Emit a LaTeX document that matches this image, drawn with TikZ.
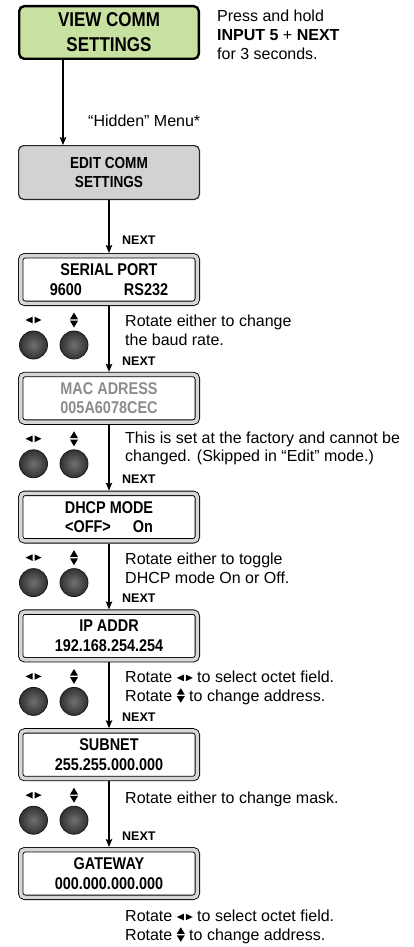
\documentclass[tikz,border=0pt]{standalone}
\usepackage{fontspec}
\setmainfont{Liberation Sans}
\newfontfamily\lcdfont{Liberation Sans}[FakeStretch=0.85]
\usetikzlibrary{positioning,arrows.meta}
\definecolor{viewGreen}{RGB}{200,225,160}
\definecolor{editGray}{RGB}{210,210,210}
\definecolor{lcdGray}{RGB}{214,214,214}
\definecolor{knobEdge}{RGB}{50,50,50}
\definecolor{knobMid}{RGB}{112,112,112}
% small rotate marks used inside the notes
\newcommand\lrmark{\tikz[x=1pt,y=1pt,baseline=0pt]{\fill (7,1)--(7,7.6)--(0,4.3)--cycle (9,1)--(9,7.6)--(16,4.3)--cycle;}}
\newcommand\udmark{\tikz[x=1pt,y=1pt,baseline=0pt]{\fill (0,5)--(8,5)--(4,-1.5)--cycle (0,6.5)--(8,6.5)--(4,13)--cycle;}}
\tikzset{
  viewbox/.style={rectangle,draw=black,line width=2.4pt,fill=viewGreen,
    rounded corners=5pt,minimum width=179.6pt,minimum height=52.6pt,
    inner sep=0pt,align=center,font=\lcdfont\bfseries\fontsize{20}{25}\selectfont},
  editbox/.style={rectangle,draw=black!85,line width=1.2pt,fill=editGray,
    rounded corners=5pt,minimum width=180.8pt,minimum height=53.8pt,
    inner sep=0pt,align=center,font=\lcdfont\bfseries\fontsize{16}{19.5}\selectfont},
  lcd/.style={rectangle,draw=black,line width=0.9pt,double=lcdGray,
    double distance=3.6pt,fill=white,rounded corners=4pt,outer sep=2.7pt,
    minimum width=176.6pt,minimum height=47.6pt,inner sep=0pt,align=center,
    font=\lcdfont\bfseries\fontsize{17}{19.5}\selectfont},
  flow/.style={-{Stealth[length=8pt,width=6.5pt,inset=1.5pt]},line width=1.2pt},
  note/.style={inner sep=0pt,align=left,font=\fontsize{16}{19}\selectfont},
  nextlbl/.style={inner sep=0pt,font=\bfseries\fontsize{12.5}{14}\selectfont},
  knob/.style={draw=black!90,line width=0.8pt,inner color=knobMid,outer color=knobEdge},
  knobs/.pic={
    \shade[knob] (-75.5,39) circle[radius=14];
    \shade[knob] (-35,39) circle[radius=14];
    \fill (-76.5,10.7)--(-76.5,17.3)--(-83.5,14)--cycle
          (-74.5,10.7)--(-74.5,17.3)--(-67.5,14)--cycle;
    \fill (-39,13.3)--(-31,13.3)--(-35,6.5)--cycle
          (-39,14.7)--(-31,14.7)--(-35,21.5)--cycle;
  }
}
\begin{document}
\begin{tikzpicture}[x=1pt,y=-1pt]
  \useasboundingbox (0,0) rectangle (414,947);
  % entry into the hidden menu
  \node[viewbox] (view) at (109,32.5) {VIEW COMM\\SETTINGS};
  \node[note, anchor=north west] (press) at (217,9.5)
    {Press and hold\\\textbf{INPUT 5} + \textbf{NEXT}\\for 3 seconds.};
  \node[editbox, below=85pt of view] (edit) {EDIT COMM\\SETTINGS};
  \draw[flow] ([xshift=-46pt]view.south) -- ([xshift=-46pt]edit.north);
  \node[note, anchor=base west] (hidden) at (88,127) {“Hidden” Menu*};

  % the LCD screens
  \node[lcd, below=53pt of edit] (serial) {SERIAL PORT\\9600\hspace{42pt}RS232};
  \node[lcd, below=65.8pt of serial, text=black!45] (mac) {MAC ADRESS\\005A6078CEC};
  \node[lcd, below=65.8pt of mac] (dhcp) {DHCP MODE\\<OFF>\hspace{22pt}On};
  \node[lcd, below=65.8pt of dhcp] (ip) {IP ADDR\\192.168.254.254};
  \node[lcd, below=65.8pt of ip] (subnet) {SUBNET\\255.255.000.000};
  \node[lcd, below=65.8pt of subnet] (gateway) {GATEWAY\\000.000.000.000};

  \draw[flow] (edit) -- (serial);
  \draw[flow] (serial) -- (mac);
  \draw[flow] (mac) -- (dhcp);
  \draw[flow] (dhcp) -- (ip);
  \draw[flow] (ip) -- (subnet);
  \draw[flow] (subnet) -- (gateway);

  \node[nextlbl, above right=8pt and 13pt of serial.north] (nx1) {NEXT};
  \node[nextlbl, above right=6.5pt and 13pt of mac.north] (nx2) {NEXT};
  \node[nextlbl, above right=6.5pt and 13pt of dhcp.north] (nx3) {NEXT};
  \node[nextlbl, above right=6.5pt and 13pt of ip.north] (nx4) {NEXT};
  \node[nextlbl, above right=6.5pt and 13pt of subnet.north] (nx5) {NEXT};
  \node[nextlbl, above right=6.5pt and 13pt of gateway.north] (nx6) {NEXT};

  % knobs under each screen
  \pic at (serial.south) {knobs};
  \pic at (mac.south) {knobs};
  \pic at (dhcp.south) {knobs};
  \pic at (ip.south) {knobs};
  \pic at (subnet.south) {knobs};

  \node[note, below right=8.5pt and 16pt of serial.south] (n1)
    {Rotate either to change\\the baud rate.};
  \node[note, below right=6.5pt and 16pt of mac.south,
    font=\fontsize{16}{18}\selectfont] (n2)
    {This is set at the factory and cannot be\\changed. (Skipped in “Edit” mode.)};
  \node[note, below right=8.9pt and 16pt of dhcp.south] (n3)
    {Rotate either to toggle\\DHCP mode On or Off.};
  \node[note, below right=8pt and 16pt of ip.south] (n4)
    {Rotate \lrmark{} to select octet field.\\Rotate \udmark{} to change address.};
  \node[note, below right=10pt and 16pt of subnet.south] (n5)
    {Rotate either to change mask.};
  \node[note, below right=9.5pt and 16pt of gateway.south] (n6)
    {Rotate \lrmark{} to select octet field.\\Rotate \udmark{} to change address.};
\end{tikzpicture}
\end{document}
